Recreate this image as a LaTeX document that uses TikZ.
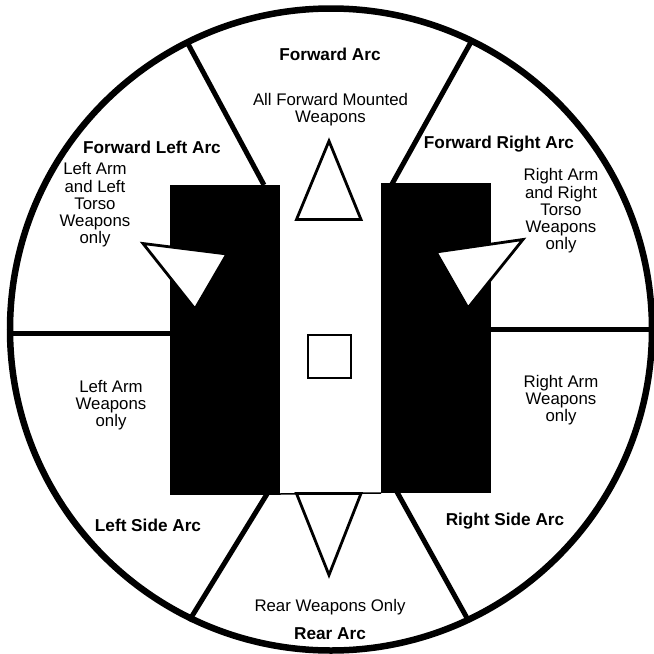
\documentclass[tikz,border=0pt]{standalone}
\usepackage{fontspec}
\setmainfont{Liberation Sans}
\tikzset{
  lbl/.style={align=center,font=\fontsize{16.8pt}{17.3pt}\selectfont,inner sep=0pt},
  arc/.style={font=\bfseries\fontsize{17.2pt}{18pt}\selectfont,inner sep=0pt},
  spoke/.style={line width=5pt,black},
  tri/.style={draw=black,line width=2.8pt,fill=white,line join=miter}
}
\begin{document}
\begin{tikzpicture}[x=1pt,y=-1pt]
\useasboundingbox (0,0) rectangle (654,654);
\fill[white] (0,0) rectangle (654,654);
\begin{scope}
\clip (0,0) rectangle (654,654);
\coordinate (C) at (331,329.5);
\draw[line width=6.5pt] (C) circle [radius=321];
\end{scope}
% black blocks
\fill[black] (170,185) rectangle (280,495);
\fill[black] (381,183) rectangle (491,493);
\coordinate (b0) at (280,494); \coordinate (b1) at (381,493);
\draw[line width=1.5pt] (b0) -- (b1);
% spokes
\coordinate (fl0) at (264,185); \coordinate (fl1) at (187,42);
\coordinate (fr0) at (392,184); \coordinate (fr1) at (471,42);
\coordinate (l0) at (171,333.5); \coordinate (l1) at (9,333.5);
\coordinate (r0) at (490,329); \coordinate (r1) at (652,329);
\coordinate (bl0) at (267,494); \coordinate (bl1) at (189,621);
\coordinate (br0) at (397,492); \coordinate (br1) at (467,618);
\draw[spoke] (fl0) -- (fl1);
\draw[spoke] (fr0) -- (fr1);
\draw[spoke] (l0) -- (l1);
\draw[spoke] (r0) -- (r1);
\draw[spoke] (bl0) -- (bl1);
\draw[spoke] (br0) -- (br1);
% triangles
\draw[tri] (329,141) -- (296.5,219.5) -- (361,219.5) -- cycle;
\draw[tri] (143,243.5) -- (227,254) -- (195,309) -- cycle;
\draw[tri] (523,239.5) -- (436,252) -- (468,308) -- cycle;
\draw[tri] (296.5,493.5) -- (361,493.5) -- (329,575) -- cycle;
\draw[tri] (308,335) rectangle (351,378);
% text
\node[arc] (fa) at (330,54) {Forward Arc};
\node[lbl] (fw) at (330.5,109.5) {All Forward Mounted\\Weapons};
\node[arc] (fla) at (152,147) {Forward Left Arc};
\node[arc] (fra) at (499,144) {Forward Right Arc};
\node[lbl] (law) at (95,205) {Left Arm\\and Left\\Torso\\Weapons\\only};
\node[lbl] (raw) at (561,211) {Right Arm\\and Right\\Torso\\Weapons\\only};
\node[lbl] (la) at (111,405) {Left Arm\\Weapons\\only};
\node[lbl] (ra) at (561,400) {Right Arm\\Weapons\\only};
\node[arc] (lsa) at (148,525) {Left Side Arc};
\node[arc] (rsa) at (505,521) {Right Side Arc};
\node[lbl] (rw) at (330,607) {Rear Weapons Only};
\node[arc] (ra2) at (330,634) {Rear Arc};
\end{tikzpicture}
\end{document}
